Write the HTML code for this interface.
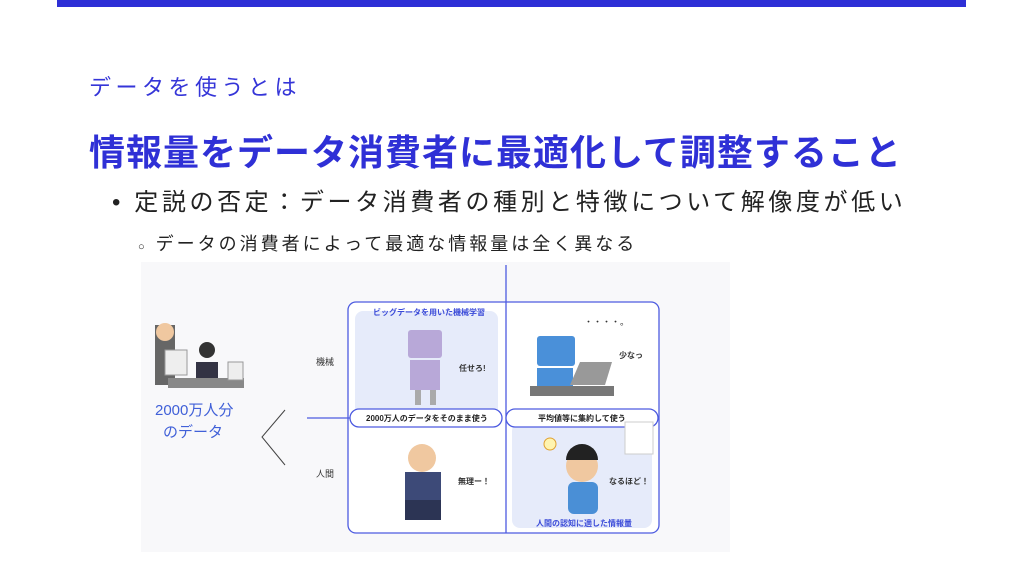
<!DOCTYPE html>
<html><head><meta charset="utf-8"><style>
body{margin:0;width:1024px;height:575px;background:#fff;position:relative;overflow:hidden;font-family:"Liberation Sans","Noto Sans CJK JP",sans-serif}
.a{position:absolute;white-space:nowrap}
</style></head><body>
<div class="a" style="left:57px;top:0;width:909px;height:7px;background:#2e2fd6"></div>
<div class="a" style="left:89px;top:70px;font-size:22px;letter-spacing:4.5px;color:#3535d8">データを使うとは</div>
<div class="a" style="left:89px;top:124px;font-size:36px;letter-spacing:1px;font-weight:bold;color:#2f30d6">情報量をデータ消費者に最適化して調整すること</div>
<div class="a" style="left:112px;top:182px;font-size:24px;letter-spacing:3.6px;color:#222">• 定説の否定：データ消費者の種別と特徴について解像度が低い</div>
<div class="a" style="left:138px;top:230px;font-size:18px;letter-spacing:3px;color:#222"><span style="font-size:11px">○</span> データの消費者によって最適な情報量は全く異なる</div>
<div class="a" style="left:141px;top:262px;width:589px;height:290px;background:#f8f8fa"></div>
<svg class="a" style="left:0;top:0" width="1024" height="575">
<rect x="348" y="302" width="311" height="231" rx="8" fill="#fff" stroke="#4d5be0" stroke-width="1.3"/>
<rect x="355" y="311" width="143" height="106" rx="8" fill="#e6ebfa"/>
<rect x="512" y="423" width="140" height="105" rx="8" fill="#e6ebfa"/>
<line x1="506" y1="265" x2="506" y2="533" stroke="#4d5be0" stroke-width="1.3"/>
<line x1="307" y1="418" x2="350" y2="418" stroke="#4d5be0" stroke-width="1.3"/>
<rect x="350" y="409" width="152" height="18" rx="9" fill="#fff" stroke="#4d5be0" stroke-width="1.3"/>
<rect x="506" y="409" width="152" height="18" rx="9" fill="#fff" stroke="#4d5be0" stroke-width="1.3"/>
<polyline points="285,410 262,437 285,465" fill="none" stroke="#444" stroke-width="1"/>
<rect x="155" y="325" width="20" height="60" fill="#666"/><circle cx="165" cy="332" r="9" fill="#f0c8a0"/>
<rect x="165" y="350" width="22" height="25" fill="#eee" stroke="#999"/>
<circle cx="207" cy="350" r="8" fill="#333"/><rect x="196" y="362" width="22" height="18" fill="#334"/>
<rect x="168" y="378" width="76" height="10" fill="#888"/><rect x="228" y="362" width="15" height="18" fill="#eee" stroke="#999"/>
<rect x="408" y="330" width="34" height="28" rx="3" fill="#b8a8d8"/><rect x="410" y="360" width="30" height="30" fill="#b8a8d8"/>
<rect x="415" y="390" width="6" height="15" fill="#aaa"/><rect x="430" y="390" width="6" height="15" fill="#aaa"/>
<rect x="537" y="336" width="38" height="30" rx="3" fill="#4a90d9"/><rect x="537" y="368" width="36" height="18" fill="#4a90d9"/>
<polygon points="570,385 580,362 612,362 605,385" fill="#999"/><rect x="530" y="386" width="84" height="10" fill="#777"/>
<circle cx="422" cy="458" r="14" fill="#f0c8a0"/><rect x="405" y="472" width="36" height="30" fill="#3d4a78"/><rect x="405" y="500" width="36" height="20" fill="#2c3454"/>
<circle cx="582" cy="466" r="16" fill="#f0c8a0"/><path d="M566,460 a16,16 0 0 1 32,0 z" fill="#222"/><rect x="568" y="482" width="30" height="32" rx="6" fill="#4a8fd6"/>
<circle cx="550" cy="444" r="6" fill="#fff4b0" stroke="#e0a030"/>
<rect x="625" y="422" width="28" height="32" fill="#fff" stroke="#ccc"/>
</svg>
<div class="a" style="left:373px;top:307px;font-size:8px;color:#3a4ad8;font-weight:bold">ビッグデータを用いた機械学習</div>
<div class="a" style="left:459px;top:363px;font-size:8px;font-weight:bold;color:#333">任せろ!</div>
<div class="a" style="left:584px;top:315px;font-size:9px;color:#333">・・・・。</div>
<div class="a" style="left:619px;top:350px;font-size:8px;font-weight:bold;color:#333">少なっ</div>
<div class="a" style="left:316px;top:355px;font-size:9px;color:#333">機械</div>
<div class="a" style="left:316px;top:467px;font-size:9px;color:#333">人間</div>
<div class="a" style="left:366px;top:413px;font-size:8px;font-weight:bold;color:#222">2000万人のデータをそのまま使う</div>
<div class="a" style="left:538px;top:413px;font-size:8px;font-weight:bold;color:#222">平均値等に集約して使う</div>
<div class="a" style="left:458px;top:476px;font-size:8px;font-weight:bold;color:#333">無理ー！</div>
<div class="a" style="left:609px;top:476px;font-size:8px;font-weight:bold;color:#333">なるほど！</div>
<div class="a" style="left:536px;top:518px;font-size:8px;font-weight:bold;color:#3a4ad8">人間の認知に適した情報量</div>
<div class="a" style="left:155px;top:400px;font-size:15px;color:#4060d8;line-height:22px;text-align:center;width:76px">2000万人分<br>のデータ</div>
</body></html>
